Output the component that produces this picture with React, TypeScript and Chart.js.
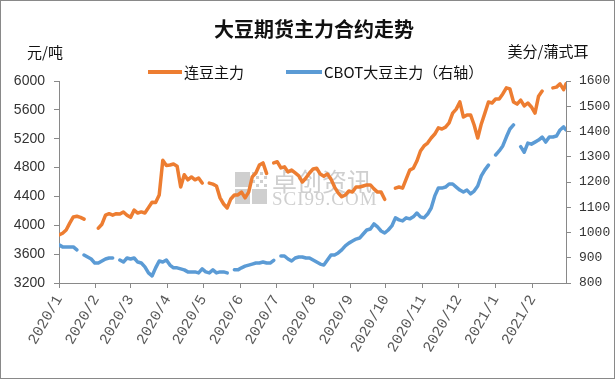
import { useEffect, useRef } from 'react';
import { Chart, registerables } from 'chart.js';
Chart.register(...registerables);

// day offsets since 2020-01-01
const days = [0,3,6,9,12,15,18,21,24,27,30,33,36,39,42,45,48,51,54,57,60,63,66,69,72,75,78,81,84,87,90,93,96,99,102,105,108,111,114,117,120,123,126,129,132,135,138,141,144,147,150,153,156,159,162,165,168,171,174,177,180,183,186,189,192,195,198,201,204,207,210,213,216,219,222,225,228,231,234,237,240,243,246,249,252,255,258,261,264,267,270,273,276,279,282,285,288,291,294,297,300,303,306,309,312,315,318,321,324,327,330,333,336,339,342,345,348,351,354,357,360,363,366,369,372,375,378,381,384,387,390,393,396,399,402,405,408,411,414,417,420,423,425];

const dalian = [3865,3890,3935,4030,4115,4125,4110,4085,null,null,null,3960,4015,4140,4160,4140,4160,4155,4185,4140,4110,4210,4170,4185,4170,4245,4320,4315,4420,4900,4830,4835,4850,4820,4530,4700,4630,4670,4630,4655,4585,null,4585,4570,4545,4380,4295,4240,4365,4420,4420,4460,4380,4460,4670,4725,4835,4865,4720,null,4865,4880,4795,4810,4740,4765,4725,4685,4600,4655,4725,4780,4790,4710,4680,4710,4640,4530,4450,4395,4420,4475,4460,4530,4530,4545,4560,4560,4505,4460,4460,4360,null,null,4515,4530,4515,4640,4765,4790,4890,5030,5100,5140,5210,5265,5350,5335,5360,5420,5555,5610,5710,5500,5530,5530,5390,5210,5405,5555,5710,5695,5750,5750,5820,5905,5890,5710,5680,5735,5655,5695,5640,5555,5790,5860,null,null,5905,5915,5960,5880,5960];

const cbot = [951,943,943,943,943,931,null,911,903,895,879,879,887,895,899,899,null,891,883,899,895,899,883,879,864,840,828,860,887,883,891,871,860,860,856,852,844,844,844,840,856,844,840,852,840,844,844,840,null,852,852,860,867,871,875,879,879,883,879,879,890,null,907,907,895,887,899,903,903,899,899,891,883,875,871,891,911,911,919,931,947,958,966,974,978,994,1010,1014,1034,1022,1006,998,1010,1026,1058,1050,1046,1058,1054,1062,1077,1062,1058,1073,1097,1145,1176,1176,1180,1192,1192,1180,1168,1160,1168,1153,1164,1184,1224,1248,1267,null,1307,1323,1343,1378,1410,1426,null,1340,1318,1354,1350,1358,1366,1378,1358,1378,1378,1382,1406,1418,1406];

const monthDays = [0,31,60,91,121,152,182,213,244,274,305,335,366,397];
const monthLabels = ['2020/1','2020/2','2020/3','2020/4','2020/5','2020/6','2020/7','2020/8','2020/9','2020/10','2020/11','2020/12','2021/1','2021/2'];

const seriesNames = ['连豆主力', 'CBOT大豆主力（右轴）'];
const titleText = '大豆期货主力合约走势';
const leftUnit = '元/吨';
const rightUnit = '美分/蒲式耳';

const ORANGE = '#ED7D31';
const BLUE = '#5B9BD5';
const AXIS = '#898989';
const CJK = '"Noto Sans CJK SC", sans-serif';

export default function App() {
  const ref = useRef<HTMLCanvasElement>(null);
  useEffect(() => {
    const overlay = {
      id: 'overlay',
      beforeDatasetsDraw(chart: any) {
        const ctx = chart.ctx;
        ctx.save();
        ctx.fillStyle = '#cfcfcf';
        const lx = 234, ly = 171;
        ctx.fillRect(lx, ly + 17, 15, 15);
        ctx.fillRect(lx + 17, ly + 17, 15, 15);
        ctx.fillRect(lx, ly, 15, 15);
        for (let i = 0; i < 4; i++) for (let j = 0; j < 4; j++) {
          if ((i + j) % 2 === 0) ctx.fillRect(lx + 17 + i * 4, ly + j * 4, 3, 3);
        }
        ctx.font = '25px ' + CJK;
        ctx.textBaseline = 'middle';
        ctx.textAlign = 'left';
        ctx.fillText('卓创资讯', 271, 180);
        ctx.font = '19px "Liberation Serif", serif';
        (ctx as any).letterSpacing = '1px';
        ctx.fillText('SCI99.COM', 271, 199);
        ctx.restore();
      },
      afterDraw(chart: any) {
        const ctx = chart.ctx;
        ctx.save();
        ctx.fillStyle = '#111';
        ctx.textBaseline = 'middle';
        ctx.textAlign = 'center';
        ctx.font = 'bold 20px ' + CJK;
        ctx.fillText(titleText, 313, 28);
        ctx.font = '15px ' + CJK;
        ctx.fillText(leftUnit, 44, 51);
        ctx.fillText(rightUnit, 547, 50);
        const items = [
          { x: 147, w: 34 },
          { x: 285, w: 36 },
        ];
        ctx.textAlign = 'left';
        chart.data.datasets.forEach((ds: any, i: number) => {
          const it = items[i];
          ctx.fillStyle = ds.borderColor;
          ctx.fillRect(it.x, 69, it.w, 4);
          ctx.fillStyle = '#111';
          ctx.font = '15px ' + CJK;
          ctx.fillText(ds.label, it.x + it.w + 2, 71);
        });
        ctx.restore();
      },
    };

    const chart = new Chart(ref.current as HTMLCanvasElement, {
      type: 'line',
      data: {
        datasets: [
          {
            label: seriesNames[0],
            data: days.map((d, i) => ({ x: d, y: dalian[i] })) as any,
            borderColor: ORANGE,
            backgroundColor: ORANGE,
            borderWidth: 3.5,
            pointRadius: 0,
            borderCapStyle: 'round',
            borderJoinStyle: 'round',
            spanGaps: false,
            yAxisID: 'y',
          },
          {
            label: seriesNames[1],
            data: days.map((d, i) => ({ x: d, y: cbot[i] })) as any,
            borderColor: BLUE,
            backgroundColor: BLUE,
            borderWidth: 3.5,
            pointRadius: 0,
            borderCapStyle: 'round',
            borderJoinStyle: 'round',
            spanGaps: false,
            yAxisID: 'y1',
          },
        ],
      },
      options: {
        responsive: false,
        animation: false,
        events: [],
        layout: { padding: { top: 80, left: 0, right: 0, bottom: 0 } },
        plugins: { legend: { display: false }, title: { display: false }, tooltip: { enabled: false } },
        scales: {
          x: {
            type: 'linear',
            min: 0,
            max: 425,
            afterBuildTicks: (s: any) => { s.ticks = monthDays.map((v) => ({ value: v })); },
            afterFit: (s: any) => { s.height = 95; },
            ticks: {
              autoSkip: false,
              minRotation: 60,
              maxRotation: 60,
              padding: 4,
              color: '#595959',
              font: { family: '"Liberation Mono", monospace', size: 15 },
              callback: (v: any) => { const i = monthDays.indexOf(Number(v)); return i >= 0 ? monthLabels[i] : ''; },
            },
            grid: { drawOnChartArea: false, drawTicks: true, tickLength: 5, color: AXIS },
            border: { display: true, color: AXIS },
          },
          y: {
            position: 'left',
            min: 3200,
            max: 6000,
            afterFit: (s: any) => { s.width = 58; },
            ticks: { stepSize: 400, padding: 9, color: '#333', font: { family: '"Liberation Sans", Arial', size: 14 }, callback: (v: any) => String(v) },
            grid: { drawOnChartArea: false, drawTicks: true, tickLength: 5, color: AXIS },
            border: { display: true, color: AXIS },
          },
          y1: {
            position: 'right',
            min: 800,
            max: 1600,
            afterFit: (s: any) => { s.width = 48; },
            ticks: { stepSize: 100, padding: 8, color: '#333', font: { family: '"Liberation Mono", monospace', size: 13 }, callback: (v: any) => String(v) },
            grid: { drawOnChartArea: false, drawTicks: true, tickLength: 5, color: AXIS },
            border: { display: true, color: AXIS },
          },
        },
      } as any,
      plugins: [overlay],
    });
    return () => chart.destroy();
  }, []);

  return (
    <div style={{ position: 'fixed', left: 0, top: 0, width: 615, height: 379, boxSizing: 'border-box', border: '1px solid #898989', background: '#fff' }}>
      <canvas ref={ref} width={613} height={377} style={{ display: 'block' }} />
    </div>
  );
}
